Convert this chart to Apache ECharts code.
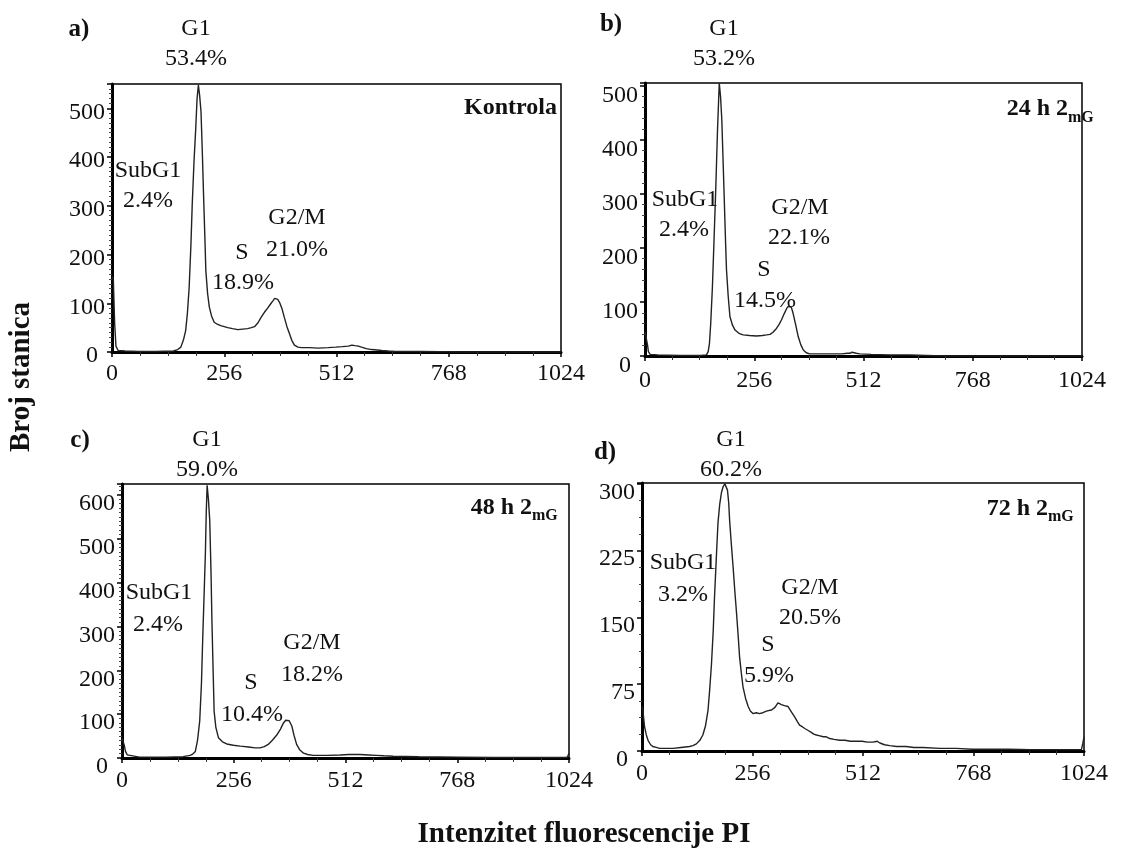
<!DOCTYPE html>
<html>
<head>
<meta charset="utf-8">
<script src="https://cdn.jsdelivr.net/npm/echarts@6.0.0/dist/echarts.min.js"></script>
<style>
html,body{margin:0;padding:0;background:#fff;}
#chart{width:1131px;height:855px;}
</style>
</head>
<body>
<div id="chart"></div>
<script>
// ---------- DATA ----------
const xTicks = [0, 256, 512, 768, 1024];
const panelIds = ['a)', 'b)', 'c)', 'd)'];
const phaseNames = ['G1', 'SubG1', 'S', 'G2/M'];
const g1Pct = ['53.4%', '53.2%', '59.0%', '60.2%'];
const subG1Pct = ['2.4%', '2.4%', '2.4%', '3.2%'];
const sPct = ['18.9%', '14.5%', '10.4%', '5.9%'];
const g2mPct = ['21.0%', '22.1%', '18.2%', '20.5%'];
const conditionMain = ['Kontrola', '24 h 2', '48 h 2', '72 h 2'];
const conditionSub = ['', 'mG', 'mG', 'mG'];
const yAxisTitle = 'Broj stanica';
const xAxisTitle = 'Intenzitet fluorescencije PI';

// Panel a) Kontrola : channel / count
const chA = [0,3,6,9,14,30,60,100,140,150,157,163,168,172,176,180,183,187,191,194,197,200,203,206,209,212,214,218,222,227,233,240,248,256,264,275,287,298,309,318,325,333,340,348,355,362,367,371,374,378,382,388,393,399,405,410,416,424,432,450,470,493,510,525,539,547,554,562,569,580,592,605,615,630,646,700,800,900,1024];
const cntA = [155,150,60,12,3,2,1,1,2,5,10,25,44,80,133,220,303,390,459,520,548,525,493,410,316,230,167,120,92,74,61,57,54,52,50,48,46,47,48,50,52,60,71,82,90,99,105,110,111,108,102,88,71,52,37,24,14,10,9,9,8,9,10,11,12,14,13,12,10,7,5,4,3,2,1,1,0,0,0];

// Panel b) 24 h 2mG
const chB = [0,2,4,6,8,12,30,80,130,144,148,151,154,158,162,166,170,174,177,180,183,186,189,191,195,199,205,211,220,230,245,261,275,285,293,300,308,314,320,326,332,336,340,343,347,353,359,365,371,378,386,400,418,440,460,475,480,485,490,495,503,530,574,620,660,700,1024];
const cntB = [45,48,42,20,8,3,2,1,1,2,8,23,60,128,220,314,420,505,480,437,360,283,205,159,110,73,57,48,42,39,38,37,38,39,40,44,51,58,67,78,88,92,94,90,79,58,36,21,11,6,4,4,4,4,4,5,5,7,6,5,4,3,2,2,1,0,0];

// Panel c) 48 h 2mG
const chC = [0,2,5,8,12,15,40,100,140,156,162,168,173,178,182,185,188,191,193,195,198,201,204,206,209,211,215,221,230,240,255,271,290,305,316,326,335,345,355,363,370,375,379,383,389,394,400,407,416,425,438,470,500,520,545,565,583,600,621,680,773,850,1000,1019,1022,1024];
const cntC = [46,46,30,15,7,4,2,2,3,6,9,15,40,84,170,275,370,466,560,622,590,542,420,313,190,107,70,46,37,32,29,27,25,23,23,26,31,41,53,66,80,86,88,85,73,52,31,19,11,8,6,6,7,8,8,7,6,5,4,3,2,1,1,1,6,11];

// Panel d) 72 h 2mG
const chD = [0,2,6,10,14,20,25,33,41,55,72,90,110,118,126,134,141,147,153,157,161,165,168,172,176,180,184,188,192,195,198,201,203,207,211,215,219,223,226,230,234,240,246,251,257,265,272,280,290,300,308,315,318,323,330,338,346,354,360,365,372,378,385,392,398,404,412,420,427,435,445,458,470,483,497,510,522,535,545,551,562,574,590,612,630,651,690,728,765,805,850,900,960,1018,1021,1024];
const cntD = [50,46,27,18,12,7,5,4,3,3,3,4,5,6,8,12,18,28,46,70,98,135,173,215,256,277,290,297,300,298,293,278,259,232,207,180,155,128,106,88,72,59,50,45,42,43,42,43,45,46,49,54,53,52,51,50,44,38,33,29,27,25,23,21,19,18,17,16,16,14,13,12,12,11,11,11,10,10,11,9,7,6,5,5,4,4,3,3,2,2,2,1.5,1.5,1.5,8,16];

const channels = [chA, chB, chC, chD];
const counts = [cntA, cntB, cntC, cntD];
const yMax = [550, 505, 625, 301];
const yInterval = [100, 100, 100, 75];
const yMinorSplit = [10, 5, 10, 4];

// ---------- LAYOUT ----------
const FONT = '"Liberation Serif", "Times New Roman", serif';
const grids = [
  {left: 112, top: 84, width: 449, height: 268},
  {left: 645, top: 83, width: 437, height: 273},
  {left: 122, top: 484, width: 447, height: 274},
  {left: 642, top: 483, width: 442, height: 268}
];
const yLabelPad = [8, 20, 18, 17];

const option = {
  animation: false,
  backgroundColor: '#fff',
  grid: grids.map(g => Object.assign({show: true, borderColor: '#000', borderWidth: 1.5, backgroundColor: 'transparent'}, g)),
  xAxis: grids.map((g, i) => ({
    gridIndex: i, type: 'value', min: 0, max: 1024, interval: 256,
    axisLine: {show: true, onZero: false, lineStyle: {color: '#000', width: 3}},
    axisTick: {show: true, inside: false, length: 5, lineStyle: {color: '#000', width: 1.5}},
    minorTick: {show: true, splitNumber: 4, length: 4, lineStyle: {color: '#333', width: 1}},
    splitLine: {show: false},
    minorSplitLine: {show: false},
    axisLabel: {margin: [10, 13, 11, 11][i], fontSize: 24, fontFamily: FONT, color: '#111',
      formatter: v => xTicks.indexOf(v) >= 0 ? String(v) : ''}
  })),
  yAxis: grids.map((g, i) => ({
    gridIndex: i, type: 'value', min: 0, max: yMax[i], interval: yInterval[i],
    axisLine: {show: true, onZero: false, lineStyle: {color: '#000', width: 3}},
    axisTick: {show: true, inside: false, length: 5, lineStyle: {color: '#000', width: 1.5}},
    minorTick: {show: true, splitNumber: yMinorSplit[i], length: 3, lineStyle: {color: '#444', width: 1}},
    splitLine: {show: false},
    minorSplitLine: {show: false},
    axisLabel: {margin: 7, fontSize: 24, fontFamily: FONT, color: '#111', showMaxLabel: false,
      padding: [yLabelPad[i], 0, 0, 0],
      formatter: v => v === 0 ? '{z|0}' : String(v),
      rich: {z: {fontSize: 24, fontFamily: FONT, color: '#111', padding: [0, 7, 0, 0]}}}
  })),
  series: channels.map((ch, i) => ({
    type: 'line', xAxisIndex: i, yAxisIndex: i,
    data: ch.map((x, k) => [x, counts[i][k]]),
    showSymbol: false, symbol: 'none',
    lineStyle: {color: '#222', width: 1.4},
    clip: true
  })),
  graphic: []
};

function txt(str, x, y, opts) {
  opts = opts || {};
  return {
    type: 'text', x: x, y: y, rotation: opts.rotation || 0, z: 100,
    style: {
      text: str,
      fontSize: opts.size || 24,
      fontFamily: FONT,
      fontWeight: opts.bold ? 'bold' : 'normal',
      fill: '#111',
      align: opts.align || 'center', verticalAlign: 'middle',
      textAlign: opts.align || 'center', textVerticalAlign: 'middle'
    }
  };
}

// per panel annotation positions
const annot = [
  {id: [79, 30], g1: [196, 29], g1p: [196, 59], sub: [148, 171], subp: [148, 201], s: [242, 253], sp: [243, 283], g2: [297, 218], g2p: [297, 250], cond: [557, 108], sub2: null},
  {id: [611, 25], g1: [724, 29], g1p: [724, 59], sub: [685, 200], subp: [684, 230], s: [764, 270], sp: [765, 301], g2: [800, 208], g2p: [799, 238], cond: [1068, 109], sub2: [1068, 118]},
  {id: [80, 441], g1: [207, 440], g1p: [207, 470], sub: [159, 593], subp: [158, 625], s: [251, 683], sp: [252, 715], g2: [312, 643], g2p: [312, 675], cond: [532, 508], sub2: [532, 516]},
  {id: [605, 453], g1: [731, 440], g1p: [731, 470], sub: [683, 563], subp: [683, 595], s: [768, 645], sp: [769, 676], g2: [810, 588], g2p: [810, 618], cond: [1048, 509], sub2: [1048, 517]}
];

annot.forEach((a, i) => {
  const G = option.graphic;
  G.push(txt(panelIds[i], a.id[0], a.id[1], {bold: true, size: 25}));
  G.push(txt(phaseNames[0], a.g1[0], a.g1[1]));
  G.push(txt(g1Pct[i], a.g1p[0], a.g1p[1]));
  G.push(txt(phaseNames[1], a.sub[0], a.sub[1]));
  G.push(txt(subG1Pct[i], a.subp[0], a.subp[1]));
  G.push(txt(phaseNames[2], a.s[0], a.s[1]));
  G.push(txt(sPct[i], a.sp[0], a.sp[1]));
  G.push(txt(phaseNames[3], a.g2[0], a.g2[1]));
  G.push(txt(g2mPct[i], a.g2p[0], a.g2p[1]));
  G.push(txt(conditionMain[i], a.cond[0], a.cond[1], {bold: true, size: 24, align: 'right'}));
  if (conditionSub[i]) {
    G.push(txt(conditionSub[i], a.sub2[0], a.sub2[1], {bold: true, size: 16, align: 'left'}));
  }
});
option.graphic.push(txt(yAxisTitle, 22, 377, {bold: true, size: 29, rotation: Math.PI / 2}));
option.graphic.push(txt(xAxisTitle, 584, 835, {bold: true, size: 29}));

const chart = echarts.init(document.getElementById('chart'), null, {renderer: 'canvas'});
chart.setOption(option);
</script>
</body>
</html>
